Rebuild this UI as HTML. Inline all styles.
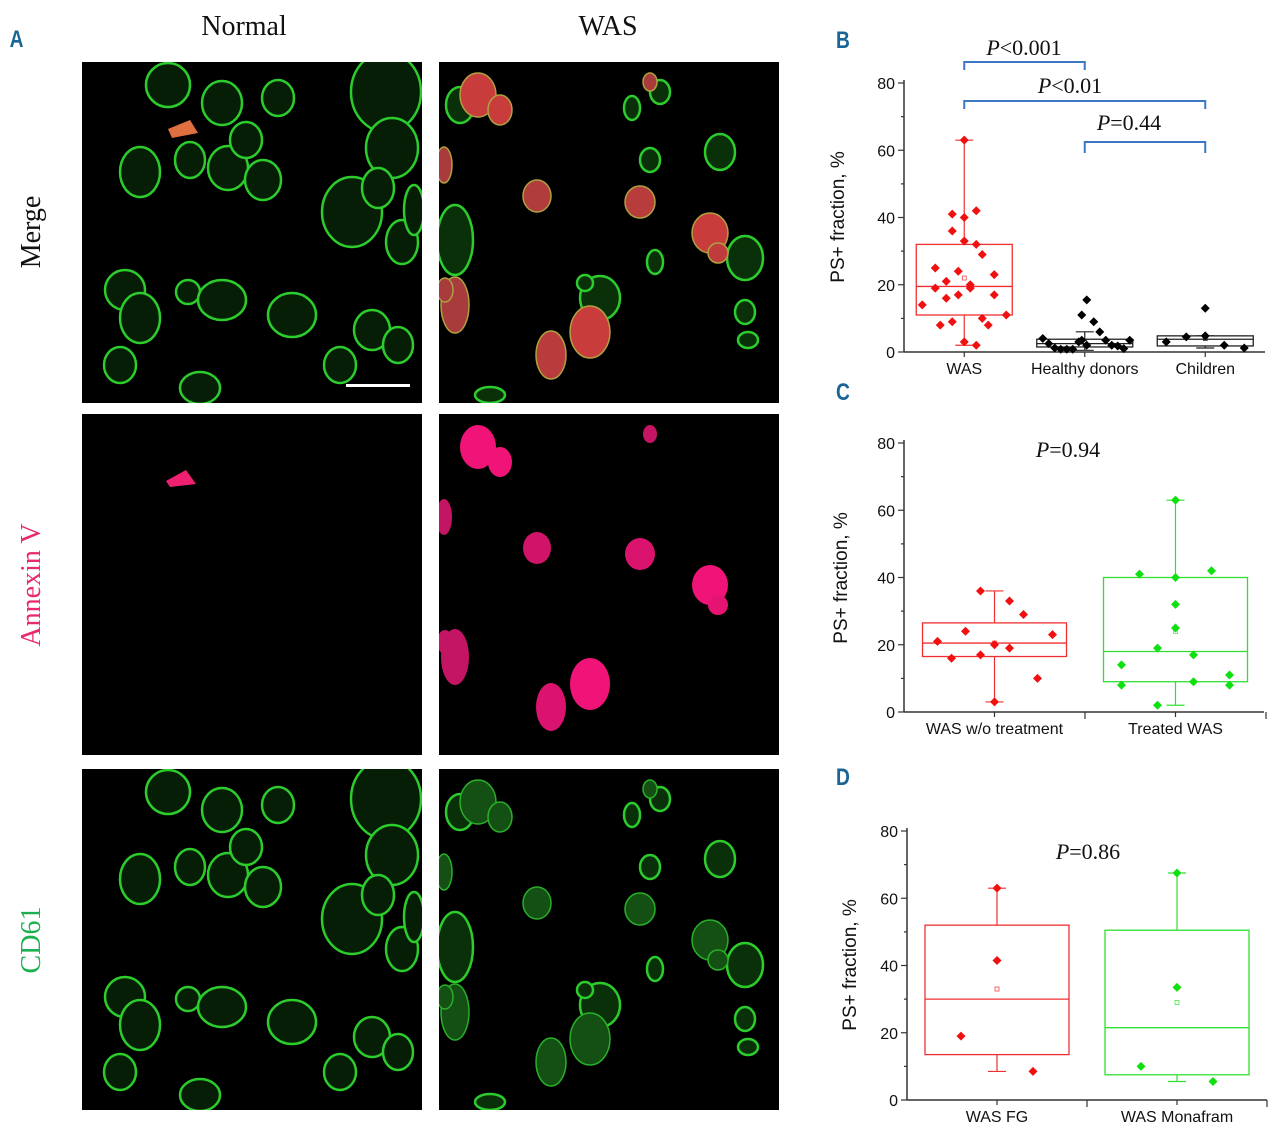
<!DOCTYPE html>
<html><head><meta charset="utf-8"><style>
html,body{margin:0;padding:0;background:#fff;width:1280px;height:1129px;overflow:hidden}
svg{display:block}
.tk{font-family:"Liberation Sans",sans-serif;font-size:16px;fill:#111}
.pl{font-family:"Liberation Sans",sans-serif;font-weight:bold;font-size:24px;fill:#1a6596}
.pv{font-family:"Liberation Serif",serif;font-size:22px;fill:#111}
.hd{font-family:"Liberation Serif",serif;font-size:28px;fill:#111}
</style></head><body>
<svg id="fig" width="1280" height="1129" viewBox="0 0 1280 1129" xmlns="http://www.w3.org/2000/svg">
<text class="pl" x="10" y="47" transform="scale(0.8,1) translate(2,0)">A</text>
<text class="hd" x="244" y="35" text-anchor="middle">Normal</text>
<text class="hd" x="608" y="35" text-anchor="middle">WAS</text>
<text class="hd" transform="translate(40,232) rotate(-90)" text-anchor="middle">Merge</text>
<text class="hd" transform="translate(40,585) rotate(-90)" text-anchor="middle" style="fill:#e8286f">Annexin V</text>
<text class="hd" transform="translate(40,940) rotate(-90)" text-anchor="middle" style="fill:#1db050">CD61</text>
<g id="micro"></g>
<g id="charts"></g>
</svg>
<script>
// ---------- chart data ----------
const bCats = ["WAS", "Healthy donors", "Children"];
const bBoxes = [[2, 11, 19.5, 32, 63, 22], [0.5, 1.5, 2.5, 3.8, 6, 3], [1.2, 1.8, 3.8, 4.8, 4.8, 4]];
const bWasVals = [41,40,42,36,33,32,29,25,24,21,23,19,20,19,16,17,17,14,11,8,9,10,8,3,2,63];
const bWasJit  = [-12,0,12,-12,0,12,18,-29,-6,-18,30,-29,6,6,-18,-6,30,-42,42,-24,-12,18,24,0,12,0];
const bHdVals = [4,2.5,1.2,0.8,0.8,0.8,3,3.5,2,15.5,11,9,6,3.5,2,1.8,1,3.5];
const bHdJit  = [-42,-36,-30,-24,-18,-12,-6,-3,2,2,-3,9,15,21,27,33,39,45];
const bChVals = [3,4.5,4.8,13,2,1.2];
const bChJit  = [-39,-19,0,0,19,39];
const cCats = ["WAS w/o treatment", "Treated WAS"];
const cBoxes = [[3, 16.5, 20.5, 26.5, 36, 20.5], [2, 9, 18, 40, 63, 24]];
const cRedVals = [36,33,29,24,21,23,16,17,20,19,10,3];
const cRedJit  = [-14,15,29,-29,-57,58,-43,-14,0,15,43,0];
const cGrnVals = [63,41,40,42,32,25,19,17,14,8,9,11,8,2];
const cGrnJit  = [0,-36,0,36,0,0,-18,18,-54,-54,18,54,54,-18];
const dCats = ["WAS FG", "WAS Monafram"];
const dBoxes = [[8.5, 13.5, 30, 52, 63, 33], [5.5, 7.5, 21.5, 50.5, 67.5, 29]];
const dRedVals = [63,41.5,19,8.5];
const dRedJit  = [0,0,-36,36];
const dGrnVals = [67.5,33.5,10,5.5];
const dGrnJit  = [0,0,-36,36];
const yTicks = [0,20,40,60,80];

const NS="http://www.w3.org/2000/svg";
function mk(tag,attrs,parent){const e=document.createElementNS(NS,tag);for(const k in attrs)e.setAttribute(k,attrs[k]);parent.appendChild(e);return e;}
const charts=document.getElementById('charts');

function chart(o){
  const g=mk('g',{},charts);
  
  
  const y=v=>o.y0-(v/80)*(o.y0-o.y80);
  const cx=i=>o.x0+(i+0.5)*o.step;
  mk('line',{x1:o.x0,y1:o.y80-3,x2:o.x0,y2:o.y0,stroke:'#333','stroke-width':1.5},g);
  mk('line',{x1:o.x0,y1:o.y0,x2:o.x1,y2:o.y0,stroke:'#333','stroke-width':1.5},g);
  for(let v=0;v<=80;v+=10){mk('line',{x1:o.x0-(v%20?3:6),y1:y(v),x2:o.x0,y2:y(v),stroke:'#333','stroke-width':1.2},g);}
  yTicks.forEach(v=>{const t=mk('text',{x:o.x0-9,y:y(v)+6,'text-anchor':'end',class:'tk'},g);t.textContent=v;
    
    });
  o.cats.forEach((c,i)=>{
    mk('line',{x1:cx(i),y1:o.y0,x2:cx(i),y2:o.y0+5,stroke:'#333','stroke-width':1.2},g);
    if(o.bounds){mk('line',{x1:o.x0+(i+1)*o.step,y1:o.y0,x2:o.x0+(i+1)*o.step,y2:o.y0+7,stroke:'#333','stroke-width':1.2},g);}
    const t=mk('text',{x:cx(i),y:o.y0+22,'text-anchor':'middle',class:'tk'},g);t.textContent=c;
    
    
  });
  const at=mk('text',{transform:`translate(${o.tx},${o.ty}) rotate(-90)`,'text-anchor':'middle',class:'tk',style:'font-size:19px'},g);
  at.textContent='PS+ fraction, %';
  
  
  o.boxes.forEach((b,i)=>{
    const col=o.cols[i],x=cx(i),hw=o.hw;
    const bg=mk('g',{},g);
    
    
    mk('line',{x1:x,y1:y(b[0]),x2:x,y2:y(b[1]),stroke:col,'stroke-width':1.2},bg);
    mk('line',{x1:x,y1:y(b[3]),x2:x,y2:y(b[4]),stroke:col,'stroke-width':1.2},bg);
    mk('line',{x1:x-9,y1:y(b[0]),x2:x+9,y2:y(b[0]),stroke:col,'stroke-width':1.2},bg);
    mk('line',{x1:x-9,y1:y(b[4]),x2:x+9,y2:y(b[4]),stroke:col,'stroke-width':1.2},bg);
    mk('rect',{x:x-hw,y:y(b[3]),width:2*hw,height:y(b[1])-y(b[3]),fill:'none',stroke:col,'stroke-width':1.3},bg);
    mk('line',{x1:x-hw,y1:y(b[2]),x2:x+hw,y2:y(b[2]),stroke:col,'stroke-width':1.3},bg);
    mk('rect',{x:x-2,y:y(b[5])-2,width:4,height:4,fill:'none',stroke:col,'stroke-width':0.7},bg);
  });
  o.pts.forEach((p,i)=>{
    const [vals,jit,col]=p;
    vals.forEach((v,k)=>{
      const px=cx(i)+jit[k],py=y(v);
      const d=mk('path',{d:`M${px} ${py-4.5}L${px+4.5} ${py}L${px} ${py+4.5}L${px-4.5} ${py}Z`,fill:col},g);
      
      
    });
  });
  return {g,y,cx};
}
const RED='#f01010',GRN='#10e010';
const B=chart({name:'chart-b',x0:904,x1:1265,y0:352,y80:83,step:120.5,cats:bCats,boxes:bBoxes,hw:48,cols:['#f03030','#222','#222'],
  pts:[[bWasVals,bWasJit,RED],[bHdVals,bHdJit,'#000'],[bChVals,bChJit,'#000']],tx:844,ty:217});
const C=chart({name:'chart-c',x0:904,x1:1264,y0:712,y80:443,step:181,cats:cCats,boxes:cBoxes,hw:72,cols:['#f03030','#30e030'],bounds:true,
  pts:[[cRedVals,cRedJit,RED],[cGrnVals,cGrnJit,GRN]],tx:847,ty:578});
const D=chart({name:'chart-d',x0:907,x1:1267,y0:1100,y80:831,step:180,cats:dCats,boxes:dBoxes,hw:72,cols:['#f03030','#30e030'],bounds:true,
  pts:[[dRedVals,dRedJit,RED],[dGrnVals,dGrnJit,GRN]],tx:856,ty:965});

function ptext(x,y,op,val,name){
  const t=mk('text',{x:x,y:y,'text-anchor':'middle',class:'pv'},charts);
  t.innerHTML='<tspan font-style="italic">P</tspan>'+op+val;
  
  
}
function bracket(x1,x2,yt,yb,name){
  const p=mk('path',{d:`M${x1} ${yb}V${yt}H${x2}V${yb}`,fill:'none',stroke:'#3a78c4','stroke-width':2},charts);
  
  
}
bracket(B.cx(0),B.cx(1),62,70,'bracket-was-healthy');
bracket(B.cx(0),B.cx(2),101,109,'bracket-was-children');
bracket(B.cx(1),B.cx(2),142,153,'bracket-healthy-children');
ptext(1024,55,'&lt;','0.001','p-value-1');
ptext(1070,93,'&lt;','0.01','p-value-2');
ptext(1129,130,'=','0.44','p-value-3');
ptext(1068,457,'=','0.94','p-value-c');
ptext(1088,859,'=','0.86','p-value-d');
[['B',48],['C',400],['D',785]].forEach(([L,yy])=>{
  const t=mk('text',{x:836/0.8,y:yy,class:'pl',transform:'scale(0.8,1)'},charts);t.textContent=L;
  
  
});

// ---------- microscopy ----------
const micro=document.getElementById('micro');
const normalCells=[[168,85,22,22],[222,103,20,22],[278,98,16,18],[386,92,35,40],[140,172,20,25],[190,160,15,18],[228,168,20,22],[263,180,18,20],[246,140,16,18],[392,148,26,30],[352,212,30,35],[378,188,16,20],[402,242,16,22],[414,210,10,25],[125,290,20,20],[140,318,20,25],[188,292,12,12],[222,300,24,20],[292,315,24,22],[372,330,18,20],[340,365,16,18],[398,345,15,18],[120,365,16,18],[200,388,20,16]];
const wasGreen=[[460,105,14,18],[632,108,8,12],[650,160,10,12],[720,152,15,18],[455,240,18,35],[745,258,18,22],[655,262,8,12],[600,298,20,22],[745,312,10,12],[748,340,10,8],[585,283,8,8],[660,92,10,12],[490,395,15,8]];
const wasRed=[[478,95,18,22,1],[500,110,12,15,1],[650,82,7,9,0.6],[444,165,8,18,0.6],[537,196,14,16,0.7],[640,202,15,16,0.8],[710,233,18,20,1],[718,253,10,10,0.9],[590,332,20,26,1],[551,355,15,24,0.8],[455,305,14,28,0.6],[445,290,8,12,0.6]];
function panel(x,y,name){const r=mk('rect',{x:x,y:y,width:340,height:341,fill:'#000'},micro);
  }
panel(82,62,'merge-normal-image');panel(439,62,'merge-was-image');
panel(82,414,'annexin-normal-image');panel(439,414,'annexin-was-image');
panel(82,769,'cd61-normal-image');panel(439,769,'cd61-was-image');
const clip=mk('clipPath',{id:'cp'},mk('defs',{},micro));
[[82,62],[439,62],[82,414],[439,414],[82,769],[439,769]].forEach(([x,y])=>mk('rect',{x:x,y:y,width:340,height:341},clip));
const cg=mk('g',{'clip-path':'url(#cp)'},micro);
function cell(c,dy,fill,stroke,sw){mk('ellipse',{cx:c[0],cy:c[1]+dy,rx:c[2],ry:c[3],fill:fill,stroke:stroke,'stroke-width':sw},cg);}
[0,707].forEach(dy=>{
  normalCells.forEach(c=>cell(c,dy,'#061e06','#2ccc2c',2.5));
  wasGreen.forEach(c=>cell(c,dy,'#0a300a','#2ccc2c',2.5));
});
wasRed.forEach(c=>cell(c,0,'rgb('+Math.round(120+80*c[4])+',60,60)','#b0a040',1.5));
wasRed.forEach(c=>cell(c,707,'#145014','#28b028',1.5));
mk('path',{d:'M168 129L190 120L198 133L172 138Z',fill:'#e07040'},cg);
mk('path',{d:'M166 481L186 470L196 484L170 487Z',fill:'#f02070'},cg);
wasRed.forEach(c=>cell(c,352,'rgb('+Math.round(130+110*c[4])+',20,'+Math.round(70+50*c[4])+')','none',0));
mk('rect',{x:346,y:384,width:64,height:3,fill:'#fff'},micro);
</script>
</body></html>
